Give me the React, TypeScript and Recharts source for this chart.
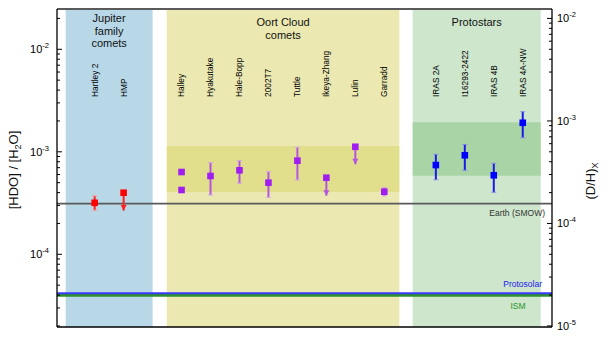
import { ScatterChart, Scatter, XAxis, YAxis, ReferenceArea, ReferenceLine } from "recharts";

const FONT = '"Liberation Sans", Arial, Helvetica, sans-serif';

// left axis: [HDO]/[H2O], right axis: (D/H) = [HDO]/[H2O] / 2
const Y_MIN = 1.954e-5;
const Y_MAX = 2.472e-2;
const X_MIN = -0.3;
const X_MAX = 16.79;

const leftMajor = [1e-4, 1e-3, 1e-2];
const rightMajor = [1e-5, 1e-4, 1e-3, 1e-2];

// Jupiter family comets
const jfcNames = ["Hartley 2", "HMP"];
const jfcX = [1, 2];
const jfcVal = [3.18e-4, 3.99e-4];
const jfcLo = [2.7e-4, 2.67e-4];
const jfcHi = [3.71e-4, 3.99e-4];
const jfcLimit = [false, true];

// Oort cloud comets (Halley has two values)
const oortNames = ["Halley", "Hyakutake", "Hale-Bopp", "2002T7", "Tuttle", "Ikeya-Zhang", "Lulin", "Garradd"];
const oortNameX = [4, 5, 6, 7, 8, 9, 10, 11];
const oortX = [4, 4, 5, 6, 7, 8, 9, 10, 11];
const oortVal = [6.35e-4, 4.24e-4, 5.81e-4, 6.6e-4, 5.0e-4, 8.19e-4, 5.59e-4, 1.12e-3, 4.08e-4];
const oortLo = [6.35e-4, 4.24e-4, 3.79e-4, 4.93e-4, 3.6e-4, 5.31e-4, 3.73e-4, 7.55e-4, 3.71e-4];
const oortHi = [6.35e-4, 4.24e-4, 7.83e-4, 8.19e-4, 6.4e-4, 1.107e-3, 5.59e-4, 1.12e-3, 4.47e-4];
const oortLimit = [false, false, false, false, false, false, true, true, false];

// Protostars
const protoNames = ["IRAS 2A", "I16293-2422", "IRAS 4B", "IRAS 4A-NW"];
const protoX = [12.78, 13.78, 14.78, 15.78];
const protoVal = [7.43e-4, 9.25e-4, 5.9e-4, 1.92e-3];
const protoLo = [5.34e-4, 6.6e-4, 4.03e-4, 1.37e-3];
const protoHi = [9.46e-4, 1.18e-3, 7.72e-4, 2.46e-3];
const protoLimit = [false, false, false, false];

// bands and reference levels
const jfcBandX = [0, 3];
const oortBandX = [3.49, 11.52];
const protoBandX = [11.98, 16.4];
const oortRange = [4.05e-4, 1.14e-3];
const protoRange = [5.85e-4, 1.94e-3];
const smow = 3.12e-4;
const protosolar = 4.17e-5;
const ismRange = [3.85e-5, 4.1e-5];
const nameLevel = 3.43e-3;

const minorTicks = (majors: number[], lo: number, hi: number) => {
  const out: number[] = [];
  for (const m of [majors[0] / 10, ...majors]) {
    for (let k = 1; k <= 9; k++) {
      const v = m * k;
      if (v >= lo && v <= hi) out.push(v);
    }
  }
  return out;
};
const leftTicks = minorTicks(leftMajor, Y_MIN, Y_MAX);
const rightTicks = minorTicks(rightMajor, Y_MIN / 2, Y_MAX / 2);

type Pt = { x: number; y: number; lo: number; hi: number; limit: boolean };
const build = (x: number[], v: number[], lo: number[], hi: number[], lim: boolean[]): Pt[] =>
  x.map((xx, i) => ({ x: xx, y: v[i], lo: lo[i], hi: hi[i], limit: lim[i] }));

const groups = [
  { pts: build(jfcX, jfcVal, jfcLo, jfcHi, jfcLimit), fill: "#ff0000", bar: "#ff2020", cap: "#ff9090" },
  { pts: build(oortX, oortVal, oortLo, oortHi, oortLimit), fill: "#a01ff0", bar: "#b455e0", cap: "#d2a8e6" },
  { pts: build(protoX, protoVal, protoLo, protoHi, protoLimit), fill: "#0000ff", bar: "#1a1ae8", cap: "#8a8ae8" },
];

// one vertical segment per measurement that has an error range or an upper limit
const bars = groups.flatMap((g) =>
  g.pts
    .filter((p) => p.lo !== p.hi)
    .map((p) => ({
      color: g.bar,
      cap: g.cap,
      data: [
        { x: p.x, y: p.lo, end: p.limit ? "arrow" : "cap" },
        { x: p.x, y: p.hi, end: p.limit ? "none" : "cap" },
      ],
    }))
);

const names = [
  ...jfcNames.map((n, i) => ({ name: n, x: jfcX[i], y: nameLevel })),
  ...oortNames.map((n, i) => ({ name: n, x: oortNameX[i], y: nameLevel })),
  ...protoNames.map((n, i) => ({ name: n, x: protoX[i], y: nameLevel })),
];

function isMajor(v: number) {
  const l = Math.log10(v);
  return Math.abs(l - Math.round(l)) < 1e-6;
}

function LeftTick(props: any) {
  const { x, y, payload } = props;
  const v = payload.value;
  const major = isMajor(v);
  return (
    <g>
      <line x1={x} x2={x + (major ? 5 : 3)} y1={y} y2={y} stroke="#000" strokeWidth={1} />
      {major && (
        <text x={x - 8} y={y + 4} textAnchor="end" fontSize={11} fontFamily={FONT} fill="#000">
          10<tspan dy={-5} fontSize={7.5}>{Math.round(Math.log10(v))}</tspan>
        </text>
      )}
    </g>
  );
}

function RightTick(props: any) {
  const { x, y, payload } = props;
  const v = payload.value;
  const major = isMajor(v);
  return (
    <g>
      <line x1={x} x2={x - (major ? 5 : 3)} y1={y} y2={y} stroke="#000" strokeWidth={1} />
      {major && (
        <text x={x + 5} y={y + 4} textAnchor="start" fontSize={11} fontFamily={FONT} fill="#000">
          10<tspan dy={-5} fontSize={7.5}>{Math.round(Math.log10(v))}</tspan>
        </text>
      )}
    </g>
  );
}

function LeftTitle(props: any) {
  const { viewBox } = props;
  const cx = viewBox.x + 18;
  const cy = 170;
  return (
    <text x={cx} y={cy} transform={`rotate(-90 ${cx} ${cy})`} textAnchor="middle" fontSize={13} fontFamily={FONT} fill="#111">
      [HDO] / [H<tspan dy={3} fontSize={9}>2</tspan>
      <tspan dy={-3}>O]</tspan>
    </text>
  );
}

function RightTitle(props: any) {
  const { viewBox } = props;
  const cx = viewBox.x + 43;
  const cy = 181;
  return (
    <text x={cx} y={cy} transform={`rotate(-90 ${cx} ${cy})`} textAnchor="middle" fontSize={13} fontFamily={FONT} fill="#111">
      (D/H)<tspan dy={3} fontSize={9}>X</tspan>
    </text>
  );
}

function BandTitle(props: any) {
  const { viewBox, lines, top } = props;
  const cx = viewBox.x + viewBox.width / 2;
  return (
    <text x={cx} y={viewBox.y + top} textAnchor="middle" fontSize={11} fontFamily={FONT} fill="#111">
      {lines.map((l: string, i: number) => (
        <tspan key={i} x={cx} dy={i === 0 ? 0 : 12.5}>
          {l}
        </tspan>
      ))}
    </text>
  );
}

function LineText(props: any) {
  const { viewBox, text, color, dx, dy, anchor } = props;
  return (
    <text x={viewBox.x + viewBox.width + dx} y={viewBox.y + dy} textAnchor={anchor} fontSize={8.5} fontFamily={FONT} fill={color}>
      {text}
    </text>
  );
}

const Square = (color: string) => (p: any) => (
  <rect x={p.cx - 3.3} y={p.cy - 3.3} width={6.6} height={6.6} fill={color} />
);

const BarEnd = (color: string, cap: string) => (p: any) => {
  if (p.payload.end === "arrow")
    return <path d={`M${p.cx - 3},${p.cy - 5.5} L${p.cx + 3},${p.cy - 5.5} L${p.cx},${p.cy} Z`} fill={color} />;
  if (p.payload.end === "cap")
    return <line x1={p.cx - 2.5} x2={p.cx + 2.5} y1={p.cy} y2={p.cy} stroke={cap} strokeWidth={1} />;
  return <g />;
};

const NameShape = (p: any) => (
  <text
    x={p.cx}
    y={p.cy}
    dy="0.35em"
    transform={`rotate(-90 ${p.cx} ${p.cy})`}
    fontSize={8.3}
    fontFamily={FONT}
    fill="#000"
  >
    {p.payload.name}
  </text>
);

export default function App() {
  return (
    <div style={{ position: "absolute", left: 0, top: 0, width: 607, height: 337, background: "#fff" }}>
      <ScatterChart width={607} height={337} margin={{ top: 9, right: 0, bottom: 0, left: 0 }}>
        <XAxis
          type="number"
          dataKey="x"
          domain={[X_MIN, X_MAX]}
          allowDataOverflow
          tick={false}
          tickLine={false}
          height={10}
          axisLine={{ stroke: "#000", strokeWidth: 1.3 }}
        />
        <YAxis
          type="number"
          dataKey="y"
          scale="log"
          domain={[Y_MIN, Y_MAX]}
          allowDataOverflow
          ticks={leftTicks}
          interval={0}
          tickSize={0}
          tickMargin={0}
          tick={<LeftTick />}
          width={57}
          axisLine={{ stroke: "#000", strokeWidth: 1.3 }}
          label={<LeftTitle />}
        />
        <YAxis
          yAxisId="right"
          orientation="right"
          type="number"
          scale="log"
          domain={[Y_MIN / 2, Y_MAX / 2]}
          allowDataOverflow
          ticks={rightTicks}
          interval={0}
          tickSize={0}
          tickMargin={0}
          tick={<RightTick />}
          width={55}
          axisLine={{ stroke: "#000", strokeWidth: 1.3 }}
          label={<RightTitle />}
        />

        <ReferenceArea x1={jfcBandX[0]} x2={jfcBandX[1]} fill="#b8d8e8" fillOpacity={1} stroke="none"
          label={<BandTitle lines={["Jupiter", "family", "comets"]} top={13} />} />
        <ReferenceArea x1={oortBandX[0]} x2={oortBandX[1]} fill="#ebe9b1" fillOpacity={1} stroke="none"
          label={<BandTitle lines={["Oort Cloud", "comets"]} top={17} />} />
        <ReferenceArea x1={protoBandX[0]} x2={protoBandX[1]} fill="#cde6cc" fillOpacity={1} stroke="none"
          label={<BandTitle lines={["Protostars"]} top={17} />} />
        <ReferenceArea x1={oortBandX[0]} x2={oortBandX[1]} y1={oortRange[0]} y2={oortRange[1]} fill="#e1df8c" fillOpacity={1} stroke="none" />
        <ReferenceArea x1={protoBandX[0]} x2={protoBandX[1]} y1={protoRange[0]} y2={protoRange[1]} fill="#a8d4a6" fillOpacity={1} stroke="none" />

        <ReferenceArea y1={ismRange[0]} y2={ismRange[1]} fill="#2e8f2e" fillOpacity={1} stroke="none"
          label={<LineText text="ISM" color="#2a952a" dx={-34} dy={15} anchor="middle" />} />
        <ReferenceLine y={protosolar} stroke="#3a3aff" strokeWidth={2}
          label={<LineText text="Protosolar" color="#2020f0" dx={-10} dy={-6} anchor="end" />} />
        <ReferenceLine y={smow} stroke="#5a5a5a" strokeWidth={1.7}
          label={<LineText text="Earth (SMOW)" color="#333" dx={-7} dy={12} anchor="end" />} />
        <ReferenceLine y={Y_MAX} stroke="#5a5a5a" strokeWidth={2} ifOverflow="visible" />

        <Scatter data={names} shape={NameShape} isAnimationActive={false} />

        {bars.map((b, i) => (
          <Scatter
            key={`b${i}`}
            data={b.data}
            line={{ stroke: b.color, strokeWidth: 2 }}
            shape={BarEnd(b.color, b.cap)}
            isAnimationActive={false}
          />
        ))}
        {groups.map((g, gi) => (
          <Scatter key={`s${gi}`} data={g.pts} shape={Square(g.fill)} isAnimationActive={false} />
        ))}
      </ScatterChart>
    </div>
  );
}
